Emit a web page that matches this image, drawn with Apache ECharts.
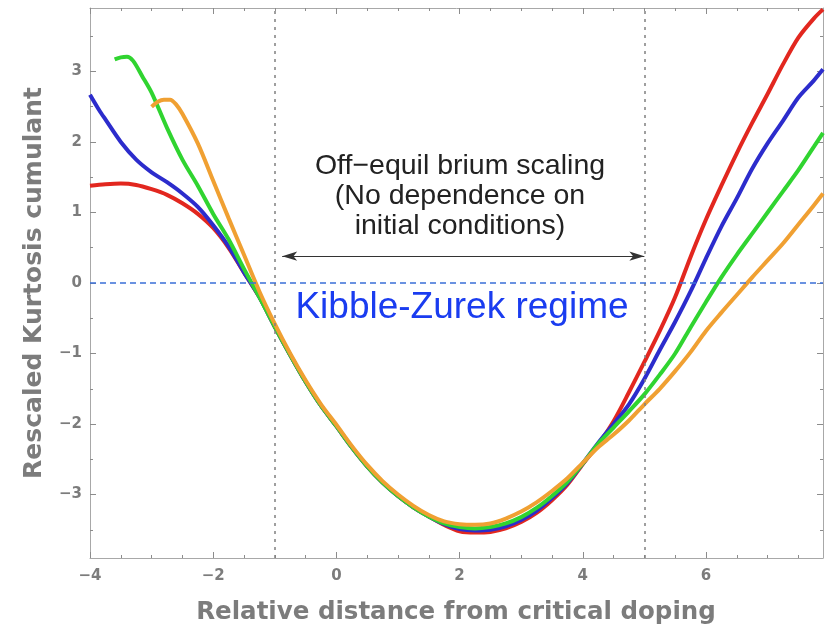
<!DOCTYPE html>
<html><head><meta charset="utf-8">
<script src="https://cdn.jsdelivr.net/npm/echarts@6/dist/echarts.min.js"></script>
<style>html,body{margin:0;padding:0;background:#fff}#c{width:827px;height:632px}</style>
</head><body><div id="c"></div>
<script>
// ---- tick values ----
const xTicks = [-4, -2, 0, 2, 4, 6];
const xMinor = [-3.5, -3, -2.5, -1.5, -1, -0.5, 0.5, 1, 1.5, 2.5, 3, 3.5, 4.5, 5, 5.5, 6.5, 7, 7.5];
const yTicks = [-3, -2, -1, 0, 1, 2, 3];
const yMinor = [-3.5, -2.5, -1.5, -0.5, 0.5, 1.5, 2.5, 3.5];

// ---- series data ----
const redX = [-4,-3.75,-3.5,-3.25,-3,-2.75,-2.5,-2.25,-2,-1.75,-1.5,-1.25,-1,-0.75,-0.5,-0.25,0,0.25,0.5,0.75,1,1.25,1.5,1.75,2,2.25,2.5,2.75,3,3.25,3.5,3.75,4,4.25,4.5,4.75,5,5.25,5.5,5.75,6,6.25,6.5,6.75,7,7.25,7.5,7.75,7.9];
const redY = [1.38,1.40,1.41,1.39,1.33,1.25,1.13,0.98,0.78,0.50,0.15,-0.20,-0.62,-1.02,-1.40,-1.74,-2.03,-2.33,-2.60,-2.83,-3.02,-3.18,-3.31,-3.43,-3.52,-3.54,-3.53,-3.48,-3.39,-3.26,-3.08,-2.86,-2.57,-2.29,-1.96,-1.55,-1.12,-0.68,-0.20,0.37,0.90,1.38,1.84,2.27,2.68,3.10,3.48,3.75,3.88];

const blueX = [-4,-3.85,-3.75,-3.5,-3.25,-3,-2.75,-2.5,-2.25,-2,-1.75,-1.5,-1.25,-1,-0.75,-0.5,-0.25,0,0.25,0.5,0.75,1,1.25,1.5,1.75,2,2.25,2.5,2.75,3,3.25,3.5,3.75,4,4.25,4.5,4.75,5,5.25,5.5,5.75,6,6.25,6.5,6.75,7,7.25,7.5,7.75,7.9];
const blueY = [2.67,2.45,2.32,2.00,1.75,1.57,1.43,1.27,1.08,0.82,0.52,0.15,-0.20,-0.62,-1.02,-1.40,-1.74,-2.03,-2.33,-2.60,-2.83,-3.02,-3.18,-3.31,-3.42,-3.49,-3.51,-3.50,-3.45,-3.36,-3.23,-3.05,-2.84,-2.56,-2.27,-2.00,-1.72,-1.36,-0.95,-0.55,-0.12,0.35,0.80,1.20,1.62,1.98,2.30,2.63,2.87,3.03];

const greenX = [-3.6,-3.5,-3.4,-3.3,-3.15,-3,-2.75,-2.5,-2.25,-2,-1.75,-1.5,-1.25,-1,-0.75,-0.5,-0.25,0,0.25,0.5,0.75,1,1.25,1.5,1.75,2,2.25,2.5,2.75,3,3.25,3.5,3.75,4,4.25,4.5,4.75,5,5.25,5.5,5.75,6,6.25,6.5,6.75,7,7.25,7.5,7.75,7.9];
const greenY = [3.17,3.20,3.21,3.15,2.93,2.70,2.20,1.75,1.38,0.98,0.62,0.20,-0.20,-0.62,-1.02,-1.40,-1.74,-2.03,-2.33,-2.60,-2.83,-3.02,-3.18,-3.31,-3.41,-3.46,-3.48,-3.46,-3.41,-3.32,-3.19,-3.02,-2.82,-2.56,-2.28,-2.05,-1.82,-1.58,-1.30,-1.00,-0.63,-0.27,0.08,0.40,0.70,1.00,1.30,1.60,1.93,2.13];

const orangeX = [-3,-2.9,-2.8,-2.7,-2.6,-2.5,-2.25,-2,-1.75,-1.5,-1.25,-1,-0.75,-0.5,-0.25,0,0.25,0.5,0.75,1,1.25,1.5,1.75,2,2.25,2.5,2.75,3,3.25,3.5,3.75,4,4.25,4.5,4.75,5,5.25,5.5,5.75,6,6.25,6.5,6.75,7,7.25,7.5,7.75,7.9];
const orangeY = [2.50,2.57,2.60,2.60,2.53,2.40,1.98,1.45,0.92,0.40,-0.12,-0.58,-1.00,-1.38,-1.72,-2.01,-2.31,-2.58,-2.81,-3.00,-3.16,-3.29,-3.38,-3.42,-3.43,-3.41,-3.34,-3.24,-3.11,-2.95,-2.77,-2.55,-2.33,-2.15,-1.95,-1.72,-1.50,-1.25,-0.98,-0.68,-0.42,-0.17,0.08,0.32,0.56,0.83,1.10,1.27];

// regime boundaries and annotation
const regimeBounds = [-1, 5];
const arrowY = 0.38;
const arrowFrom = -0.88, arrowTo = 5.0;

const zip = (xs, ys) => xs.map((x, i) => [x, ys[i]]);
const fmt = v => (v < 0 ? '\u2212' + (-v) : String(v));

const XMIN = -4, XMAX = 7.9, YMIN = -3.9, YMAX = 3.9;
const frameColor = '#a8a8a8', tickColor = '#8c8c8c', labelColor = '#7c7c7c';

function xAx(pos, vals, len, line, labels) {
  return {
    type: 'value', min: XMIN, max: XMAX, position: pos,
    axisLine: { show: line, onZero: false, lineStyle: { color: frameColor, width: 1 } },
    axisTick: { show: true, inside: true, length: len, customValues: vals, lineStyle: { color: tickColor, width: 1 } },
    axisLabel: labels ? { show: true, customValues: vals, formatter: fmt, color: labelColor, fontFamily: 'DejaVu Sans', fontWeight: 'bold', fontSize: 15, margin: 11 } : { show: false },
    splitLine: { show: false }
  };
}
function yAx(pos, vals, len, line, labels) {
  return {
    type: 'value', min: YMIN, max: YMAX, position: pos,
    axisLine: { show: line, onZero: false, lineStyle: { color: frameColor, width: 1 } },
    axisTick: { show: true, inside: true, length: len, customValues: vals, lineStyle: { color: tickColor, width: 1 } },
    axisLabel: labels ? { show: true, customValues: vals, formatter: fmt, color: labelColor, fontFamily: 'DejaVu Sans', fontWeight: 'bold', fontSize: 15, margin: 8 } : { show: false },
    splitLine: { show: false }
  };
}

const lineSeries = (name, color, xs, ys) => ({
  name, type: 'line', data: zip(xs, ys), showSymbol: false, symbol: 'none', smooth: 0.3,
  xAxisIndex: 0, yAxisIndex: 0,
  lineStyle: { color, width: 4 }, emphasis: { disabled: true }
});

const chart = echarts.init(document.getElementById('c'), null, { renderer: 'canvas' });
chart.setOption({
  animation: false,
  backgroundColor: '#ffffff',
  grid: { left: 90, right: 4, top: 8, bottom: 74, containLabel: false },
  xAxis: [
    xAx('bottom', xTicks, 6, true, true),
    xAx('bottom', xMinor, 3, false, false),
    xAx('top', xTicks, 6, true, false),
    xAx('top', xMinor, 3, false, false)
  ],
  yAxis: [
    yAx('left', yTicks, 6, true, true),
    yAx('left', yMinor, 3, false, false),
    yAx('right', yTicks, 6, true, false),
    yAx('right', yMinor, 3, false, false)
  ],
  series: [
    {
      type: 'line', data: [], xAxisIndex: 0, yAxisIndex: 0, silent: true,
      markLine: {
        silent: true, symbol: 'none', label: { show: false },
        data: [
          { xAxis: regimeBounds[0], lineStyle: { color: '#808080', width: 1.5, type: [3, 5] } },
          { xAxis: regimeBounds[1], lineStyle: { color: '#808080', width: 1.5, type: [3, 5] } },
          { yAxis: 0, lineStyle: { color: '#3a6fd8', width: 1.5, type: [6, 4] } }
        ]
      }
    },
    lineSeries('red', '#e2271f', redX, redY),
    lineSeries('blue', '#2c2ccc', blueX, blueY),
    lineSeries('green', '#30d430', greenX, greenY),
    lineSeries('orange', '#f0a032', orangeX, orangeY),
    {
      type: 'line', data: [], xAxisIndex: 0, yAxisIndex: 0, silent: true,
      markLine: {
        silent: true, symbol: ['arrow', 'arrow'], symbolSize: [7, 15], label: { show: false },
        lineStyle: { color: '#333', width: 1, type: 'solid' },
        data: [[{ coord: [arrowFrom, arrowY] }, { coord: [arrowTo, arrowY] }]]
      }
    }
  ],
  graphic: [
    { type: 'text', x: 456, y: 613, silent: true,
      style: { text: 'Relative distance from critical doping', font: 'bold 24.5px "DejaVu Sans"', fill: '#7c7c7c', align: 'center', verticalAlign: 'middle' } },
    { type: 'text', x: 34, y: 283, rotation: Math.PI / 2, silent: true,
      style: { text: 'Rescaled Kurtosis cumulant', font: 'bold 25px "DejaVu Sans"', fill: '#7c7c7c', align: 'center', verticalAlign: 'middle' } },
    { type: 'text', x: 460, y: 166, silent: true,
      style: { text: 'Off\u2212equil brium scaling', font: '28.5px "Liberation Sans"', fill: '#222', align: 'center', verticalAlign: 'middle' } },
    { type: 'text', x: 460, y: 196, silent: true,
      style: { text: '(No dependence on', font: '28.5px "Liberation Sans"', fill: '#222', align: 'center', verticalAlign: 'middle' } },
    { type: 'text', x: 460, y: 226, silent: true,
      style: { text: 'initial conditions)', font: '28.5px "Liberation Sans"', fill: '#222', align: 'center', verticalAlign: 'middle' } },
    { type: 'text', x: 462, y: 308, silent: true,
      style: { text: 'Kibble-Zurek regime', font: '37px "Liberation Sans"', fill: '#1a3cf0', align: 'center', verticalAlign: 'middle' } }
  ]
});
</script>
</body></html>
